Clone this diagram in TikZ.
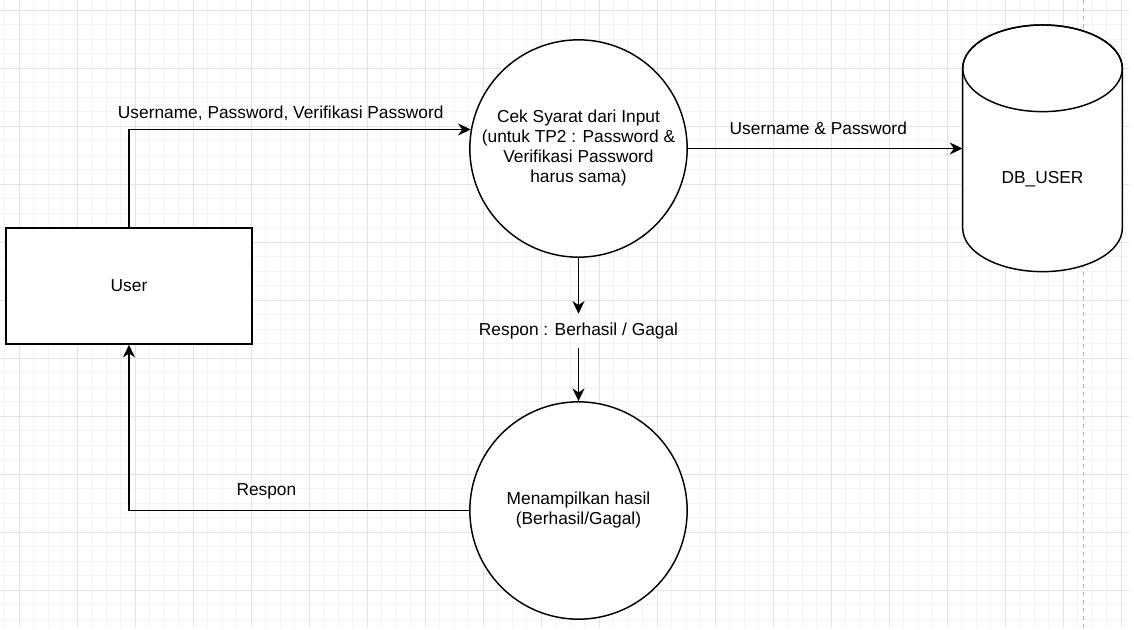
\documentclass[tikz,border=0pt]{standalone}
\usepackage{fontspec}
\setmainfont{Liberation Sans}
\usetikzlibrary{arrows.meta,calc}
\definecolor{gridmajor}{HTML}{E2E2E2}
\definecolor{gridminor}{HTML}{F3F3F3}
\definecolor{pagedash}{HTML}{B8B8B8}
\begin{document}
\begin{tikzpicture}[x=0.75pt,y=-0.75pt, font=\fontsize{13}{15}\selectfont,
  proc/.style={circle, draw, line width=1.1pt, fill=white, minimum size=163pt, inner sep=0pt, align=center},
  entity/.style={rectangle, draw, line width=1.1pt, fill=white, minimum width=184.5pt, minimum height=87pt},
  store/.style={rectangle, inner sep=0pt, minimum width=119.7pt, minimum height=185pt},
  flow/.style={draw, line width=1.1pt, -{Stealth[length=9.5pt,width=9pt,inset=3pt]}},
  lbl/.style={anchor=base, inner sep=0pt},
  gridmin/.style={draw=gridminor, line width=0.75pt},
  gridmaj/.style={draw=gridmajor, line width=0.75pt}]
\useasboundingbox (0,0) rectangle (1134,629);
\fill[white] (0,0) rectangle (1134,629);
% grid
\foreach \i in {0,...,77} { \draw[gridmin] ({4.8+14.5*\i},0) -- ({4.8+14.5*\i},627); }
\foreach \j in {0,...,42} { \draw[gridmin] (0,{10+14.5*\j}) -- (1129,{10+14.5*\j}); }
\foreach \i in {0,...,19} { \draw[gridmaj] ({19.3+58*\i},0) -- ({19.3+58*\i},627); }
\foreach \j in {0,...,10} { \draw[gridmaj] (0,{10+58*\j}) -- (1129,{10+58*\j}); }
\draw[pagedash, line width=0.75pt, dash pattern=on 3pt off 3pt] (1083.3,0) -- (1083.3,629);

% data store cylinder
\node[store] (db) at (1042.5,148.5) {};
\draw[line width=1.1pt, fill=white] (962.7,68.3) -- (962.7,228.3)
  arc[start angle=180, end angle=360, x radius=59.85pt, y radius=32.5pt]
  -- (1122.3,68.3)
  arc[start angle=0, end angle=180, x radius=59.85pt, y radius=32.5pt] -- cycle;
\draw[line width=1.1pt] (1042.5,68.3) ellipse [x radius=59.85pt, y radius=32.5pt];
\node[lbl] (dbtext) at (1042.5,183.3) {DB\_USER};

% nodes
\node[entity] (user) at (129,286) {User};
\node[proc] (c1) at (578.5,148.5) {Cek Syarat dari Input\\(untuk TP2 : Password \&\\Verifikasi Password\\harus sama)};
\node[proc] (c2) at (578.5,510.5) {Menampilkan hasil\\(Berhasil/Gagal)};
\node[inner sep=0pt, minimum height=25.5pt] (resp) at (578.5,331) {Respon : Berhasil / Gagal};

% flows
\draw[flow] (user.north) |- (c1.170)
  node[lbl, pos=0.722, yshift=7.95pt] {Username, Password, Verifikasi Password};
\draw[flow] (c1.east) -- (db.west)
  node[lbl, pos=0.475, yshift=10.65pt] {Username \& Password};
\draw[flow] (c1.south) -- (resp.north);
\draw[flow] (resp.south) -- (c2.north);
\draw[flow] (c2.west) -| (user.south)
  node[lbl, pos=0.298, yshift=10.9pt] {Respon};
\end{tikzpicture}
\end{document}
